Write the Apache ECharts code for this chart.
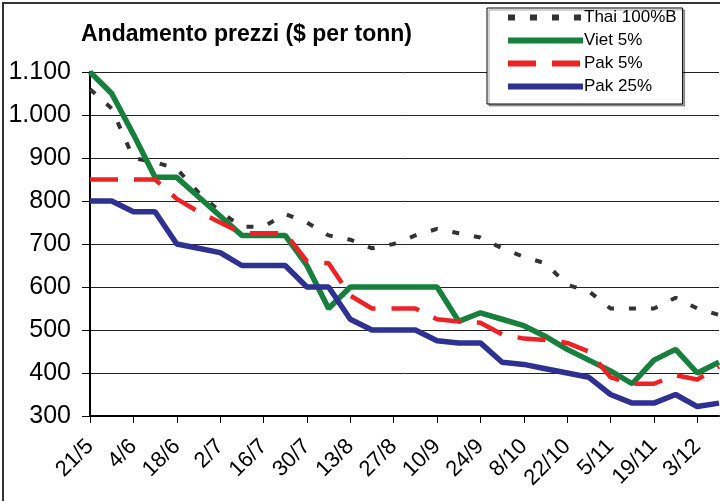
<!DOCTYPE html>
<html>
<head>
<meta charset="utf-8">
<script src="https://cdn.jsdelivr.net/npm/echarts@6/dist/echarts.min.js"></script>
<style>
  html, body { margin: 0; padding: 0; background: #fff; }
  #chart { width: 720px; height: 501px; }
</style>
</head>
<body>
<div id="chart"></div>
<script>
var dates = ['21/5','28/5','4/6','11/6','18/6','25/6','2/7','9/7','16/7','23/7','30/7','6/8','13/8','20/8','27/8',
  '3/9','10/9','17/9','24/9','1/10','8/10','15/10','22/10','29/10','5/11','12/11','19/11','26/11','3/12','10/12'];

var thai = [1060,1015,900,890,875,820,775,740,740,770,750,720,710,690,700,720,735,725,715,690,670,655,605,590,550,550,550,575,550,535];
var viet = [1100,1050,955,855,855,810,765,720,720,720,650,550,600,600,600,600,600,520,540,525,510,485,455,430,405,375,430,455,400,425];
var pak5 = [850,850,850,850,805,775,750,725,725,725,660,655,580,550,550,550,525,520,517,490,480,477,470,450,390,375,375,395,385,415];
var pak25 = [800,800,775,775,700,690,680,650,650,650,600,600,525,500,500,500,475,470,470,425,420,410,400,390,350,330,330,350,322,330];

var chart = echarts.init(document.getElementById('chart'), null, { renderer: 'canvas' });

function line(name, data, color, width, type) {
  return {
    name: name,
    type: 'line',
    data: data,
    symbol: 'none',
    lineStyle: { color: color, width: width, type: type, cap: 'butt' },
    itemStyle: { color: color }
  };
}

var option = {
  animation: false,
  textStyle: { fontFamily: 'Liberation Sans, Arial, sans-serif', color: '#000' },
  title: {
    text: 'Andamento prezzi ($ per tonn)',
    left: 81,
    top: 23,
    padding: 0,
    textStyle: { fontSize: 23, fontWeight: 'bold', color: '#000', fontFamily: 'Liberation Sans, Arial, sans-serif' }
  },
  legend: {
    orient: 'vertical',
    left: 487,
    top: 8,
    padding: [1, 6, 9, 18],
    itemWidth: 75,
    itemHeight: 12,
    itemGap: 6,
    backgroundColor: '#fff',
    borderColor: '#000',
    borderWidth: 1,
    shadowColor: 'rgba(0,0,0,0.35)',
    shadowOffsetX: 2,
    shadowOffsetY: 2,
    itemStyle: { opacity: 0 },
    lineStyle: { width: 6 },
    textStyle: { fontSize: 17, color: '#000', padding: [0, 0, 0, -4] },
    data: ['Thai 100%B', 'Viet 5%', 'Pak 5%', 'Pak 25%']
  },
  grid: { left: 90, right: 1, top: 72, bottom: 85 },
  xAxis: {
    type: 'category',
    data: dates,
    boundaryGap: false,
    axisLine: { lineStyle: { color: '#000', width: 2 } },
    axisTick: { interval: 1, length: 7, lineStyle: { color: '#000', width: 1 } },
    axisLabel: { interval: 1, rotate: 45, fontSize: 22, color: '#000', margin: 27 },
    splitLine: { show: false }
  },
  yAxis: {
    type: 'value',
    min: 300,
    max: 1100,
    interval: 100,
    axisLine: { show: true, lineStyle: { color: '#000', width: 2 } },
    axisTick: { show: true, length: 8, lineStyle: { color: '#000' } },
    axisLabel: {
      fontSize: 25,
      color: '#000',
      margin: 19,
      formatter: function (v) {
        return v >= 1000 ? Math.floor(v / 1000) + '.' + String(v % 1000).padStart(3, '0') : String(v);
      }
    },
    splitLine: { lineStyle: { color: '#222', width: 1 } }
  },
  graphic: [{
    type: 'rect',
    shape: { x: 3, y: 3, width: 800, height: 600 },
    style: { fill: null, stroke: '#333', lineWidth: 2 },
    silent: true,
    z: 100
  }],
  series: [
    line('Thai 100%B', thai, '#333333', 4, [7, 15]),
    line('Viet 5%', viet, '#17803d', 5.5, 'solid'),
    line('Pak 5%', pak5, '#ee2224', 4.5, [28, 16]),
    line('Pak 25%', pak25, '#2e3192', 5.5, 'solid')
  ]
};

chart.setOption(option);
window.addEventListener('resize', chart.resize);
</script>
</body>
</html>
